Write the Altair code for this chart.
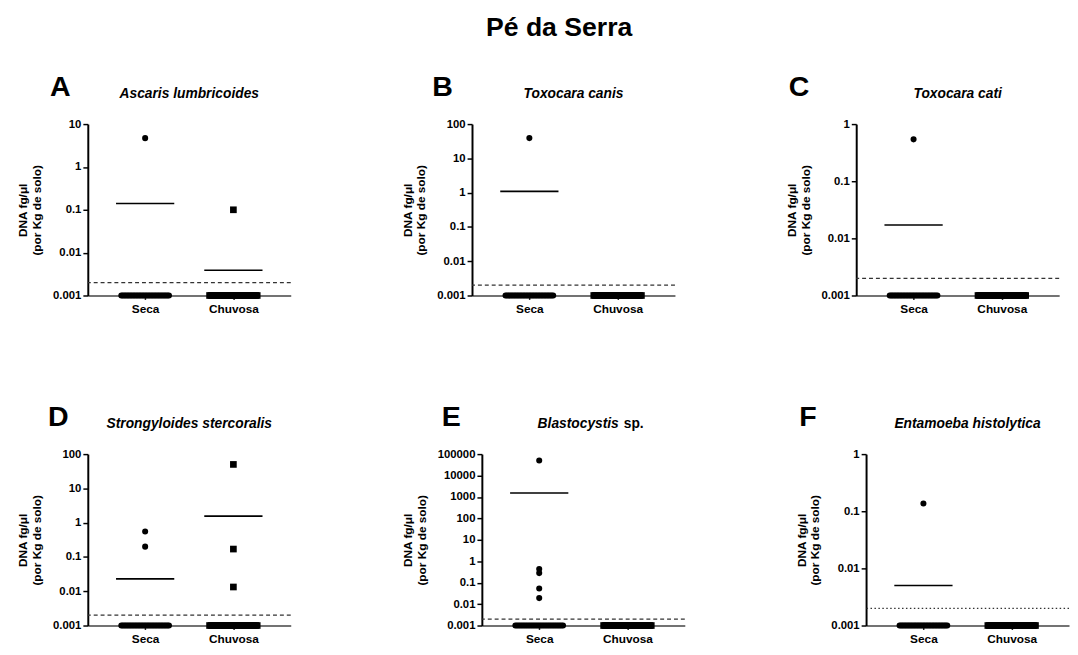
import altair as alt
import pandas as pd

FONT = "Liberation Sans"

# ---------------- data ----------------
groups = ["Seca", "Chuvosa"]
panel_letters = ["A", "B", "C", "D", "E", "F"]
species_italic = ["Ascaris lumbricoides", "Toxocara canis", "Toxocara cati",
                  "Strongyloides stercoralis", "Blastocystis", "Entamoeba histolytica"]
species_plain = ["", "", "", "", "sp.", ""]
y_top = [10, 100, 1, 100, 100000, 1]
y_ticks = [
    [0.001, 0.01, 0.1, 1, 10],
    [0.001, 0.01, 0.1, 1, 10, 100],
    [0.001, 0.01, 0.1, 1],
    [0.001, 0.01, 0.1, 1, 10, 100],
    [0.001, 0.01, 0.1, 1, 10, 100, 1000, 10000, 100000],
    [0.001, 0.01, 0.1, 1],
]
seca_detected = [[4.7], [39], [0.54], [0.55, 0.2],
                 [50000, 0.43, 0.28, 0.053, 0.019], [0.137]]
chuvosa_detected = [[0.1], [], [], [50, 0.17, 0.0133], [], []]
seca_mean = [0.14, 1.09, 0.0171, 0.023, 1520, 0.005]
chuvosa_mean = [0.0039, None, None, 1.55, None, None]
samples_per_group = 34
floor_value = 0.001
detection_limit = 0.002
limit_style = ["dashed", "dashed", "dashed", "dashed", "dashed", "dotted"]

# ---------------- layout ----------------
W, H = 206, 174
letter_dx = [-28, -30, -58, -30, -31, -59]
SPREAD = 0.54
XDOM = [-0.65, 1.65]

rows = []
for p in range(6):
    for gi, (g, det) in enumerate(zip(groups, [seca_detected[p], chuvosa_detected[p]])):
        for v in det:
            rows.append({"panel": p, "group": g, "gi": gi, "value": v, "below": 0})
        for _ in range(samples_per_group - len(det)):
            rows.append({"panel": p, "group": g, "gi": gi, "value": floor_value, "below": 1})
points_df = pd.DataFrame(rows)

mean_rows = []
for p in range(6):
    for gi, m in enumerate([seca_mean[p], chuvosa_mean[p]]):
        if m is not None:
            mean_rows.append({"panel": p, "gi": gi, "value": m})
means_df = pd.DataFrame(mean_rows)


def panel(p):
    xscale = alt.Scale(domain=XDOM, nice=False, zero=False)
    yscale = alt.Scale(type="log", domain=[floor_value, y_top[p]], nice=False)
    xaxis = alt.Axis(values=[0, 1], title=None,
                     labelExpr="datum.value == 0 ? 'Seca' : 'Chuvosa'",
                     labelFont=FONT, labelFontSize=12, labelFontWeight="bold",
                     labelColor="black", labelPadding=4,
                     domainColor="#444", domainWidth=1.5,
                     tickColor="#222", tickSize=4, tickWidth=1.5, grid=False)
    yaxis = alt.Axis(values=y_ticks[p], format="~g",
                     title=["DNA fg/\u03bcl", "(por Kg de solo)"],
                     titleFont=FONT, titleFontSize=12, titleFontWeight="bold",
                     titleColor="black", titlePadding=9, titleLineHeight=14,
                     labelFont=FONT, labelFontSize=11.5, labelFontWeight="bold",
                     labelColor="black", labelPadding=2,
                     domainColor="black", domainWidth=2,
                     tickColor="black", tickSize=5, tickWidth=1.5, grid=False)

    pts = alt.Chart(points_df).transform_filter(
        alt.datum.panel == p
    ).transform_window(
        idx="row_number()", groupby=["group", "below"]
    ).transform_joinaggregate(
        cnt="count()", groupby=["group", "below"]
    ).transform_calculate(
        xpos=f"datum.gi + (datum.below == 1 ? (datum.idx - 1 - (datum.cnt - 1) / 2) * {SPREAD} / (datum.cnt - 1) : 0)"
    ).mark_point(filled=True, opacity=1, color="black").encode(
        x=alt.X("xpos:Q", scale=xscale, axis=xaxis),
        y=alt.Y("value:Q", scale=yscale, axis=yaxis),
        shape=alt.Shape("group:N", scale=alt.Scale(domain=groups, range=["circle", "square"]), legend=None),
        size=alt.Size("group:N", scale=alt.Scale(domain=groups, range=[38, 46]), legend=None),
    )

    mn = alt.Chart(means_df).transform_filter(
        alt.datum.panel == p
    ).transform_calculate(
        xpos="datum.gi - 0.33", xend="datum.gi + 0.33"
    ).mark_rule(color="black", strokeWidth=1.6).encode(
        x=alt.X("xpos:Q", scale=xscale),
        x2="xend:Q",
        y=alt.Y("value:Q", scale=yscale),
    )

    dash = [4, 3] if limit_style[p] == "dashed" else [1.5, 2.5]
    lim = alt.Chart(pd.DataFrame({"value": [detection_limit]})).mark_rule(
        color="#333", strokeWidth=1.3, strokeDash=dash
    ).encode(y=alt.Y("value:Q", scale=yscale))

    letter = alt.Chart(pd.DataFrame({"t": [panel_letters[p]]})).mark_text(
        font=FONT, fontSize=29, fontWeight="bold", color="black",
        align="center", baseline="middle"
    ).encode(x=alt.value(letter_dx[p]), y=alt.value(-38), text="t:N")

    layers = [lim, mn, pts, letter]
    if species_plain[p]:
        t1 = alt.Chart(pd.DataFrame({"t": [species_italic[p]]})).mark_text(
            font=FONT, fontSize=14, fontWeight="bold", fontStyle="italic", color="black",
            align="right", baseline="middle"
        ).encode(x=alt.value(W / 2 + 36), y=alt.value(-30), text="t:N")
        t2 = alt.Chart(pd.DataFrame({"t": [species_plain[p]]})).mark_text(
            font=FONT, fontSize=14, fontWeight="bold", color="black",
            align="left", baseline="middle"
        ).encode(x=alt.value(W / 2 + 41), y=alt.value(-30), text="t:N")
        layers += [t1, t2]
    else:
        t1 = alt.Chart(pd.DataFrame({"t": [species_italic[p]]})).mark_text(
            font=FONT, fontSize=14, fontWeight="bold", fontStyle="italic", color="black",
            align="center", baseline="middle"
        ).encode(x=alt.value(W / 2), y=alt.value(-30), text="t:N")
        layers += [t1]

    return alt.layer(*layers).properties(width=W, height=H)


row1 = alt.hconcat(panel(0), panel(1), panel(2), spacing=111)
row2 = alt.hconcat(panel(3), panel(4), panel(5), spacing=111)

chart = alt.vconcat(row1, row2, spacing=90).properties(
    title=alt.TitleParams("Pé da Serra", font=FONT, fontSize=27, fontWeight="bold",
                          color="black", anchor="middle", dx=16, offset=31),
    padding={"left": 9, "top": 2, "right": 0, "bottom": 0},
).configure_view(stroke=None).configure_scale(
    continuousPadding=0
)

chart.save("out.html", embed_options={"renderer": "svg", "actions": False})
